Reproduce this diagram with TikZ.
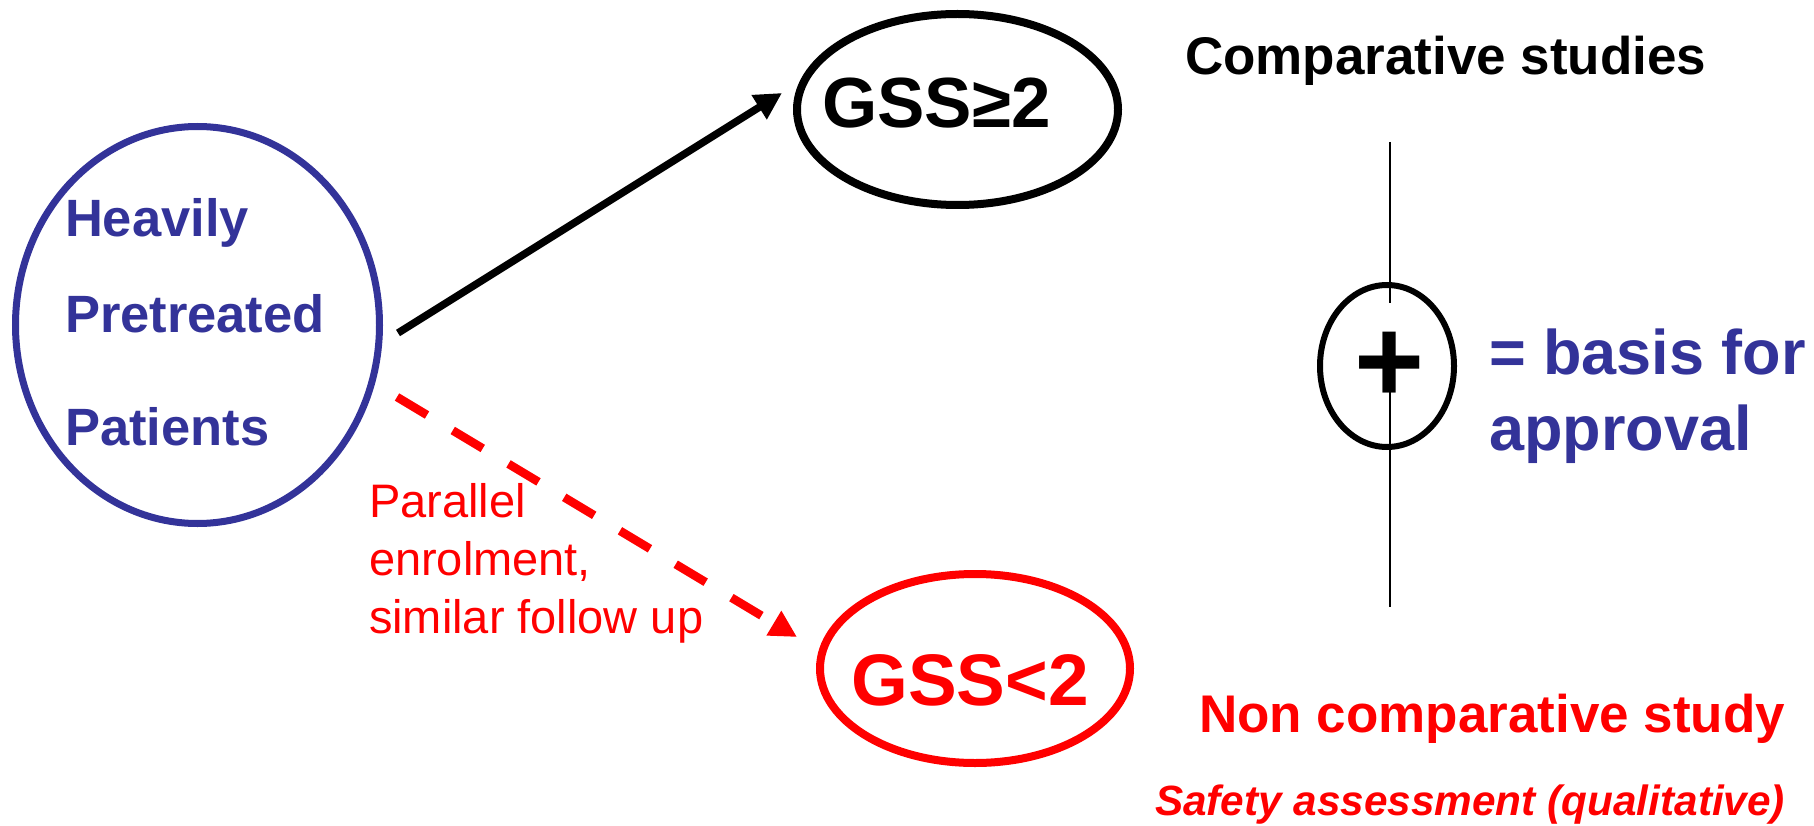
\documentclass[tikz,border=0pt]{standalone}
\usepackage{fontspec}
\setmainfont{Liberation Sans}
\usetikzlibrary{arrows.meta,shapes.geometric}
\definecolor{pptblue}{HTML}{333399}
\definecolor{pptred}{HTML}{FF0000}
\tikzset{
  oval/.style={ellipse, draw, inner sep=0pt, outer sep=0pt},
  lbl/.style={inner sep=0pt, outer sep=0pt},
  flow/.style={line width=7.5pt, -{Triangle[length=27pt,width=27pt]}},
}
\begin{document}
\begin{tikzpicture}[x=1pt,y=-1pt]
\useasboundingbox (0,0) rectangle (1814,826);
% left: patients
\node[oval, pptblue, line width=7pt, minimum width=364pt, minimum height=397pt] (patients) at (197.5,325) {};
\node[lbl, anchor=base west, align=left, text=pptblue, font=\bfseries\fontsize{52.5}{96}\selectfont] (ptext) at (65,445) {Heavily\\Pretreated\\[17pt]Patients};
% GSS >= 2
\node[oval, black, line width=8pt, minimum width=321pt, minimum height=191pt] (high) at (957.5,109.5) {};
\node[lbl, anchor=base, font=\bfseries\fontsize{71}{80}\selectfont] (hightext) at (936.5,128) {GSS≥2};
% GSS < 2
\node[oval, pptred, line width=8pt, minimum width=310pt, minimum height=189pt] (low) at (975,668.5) {};
\node[lbl, anchor=base, text=pptred, font=\bfseries\fontsize{73}{80}\selectfont] (lowtext) at (970,705) {GSS<2};
% arrows
\coordinate (hstart) at (398,333);
\coordinate (hend) at (782,93);
\draw[flow] (hstart) -- (hend);
\coordinate (lstart) at (397,397);
\coordinate (lend) at (797,637);
\draw[flow, pptred, line width=8.5pt, dash pattern=on 35pt off 30pt] (lstart) -- (lend);
\node[lbl, anchor=base west, align=left, text=pptred, font=\fontsize{47}{58}\selectfont] (enrol) at (369,633) {Parallel\\enrolment,\\similar follow up};
% right side
\node[lbl, anchor=base west, font=\bfseries\fontsize{53}{60}\selectfont] (comp) at (1185,75) {Comparative studies};
\coordinate (vtop) at (1390,142);
\coordinate (vbot) at (1390,607);
\draw[line width=2pt] (vtop) -- (vbot);
\node[oval, line width=6pt, minimum width=134pt, minimum height=162pt] (plusoval) at (1387,366) {};
\node[fill=white, inner sep=0pt, minimum width=20pt, minimum height=87pt] (plusmask) at (1390,346.5) {};
\node[lbl, font=\bfseries\fontsize{120}{120}\selectfont] (plus) at (1390,367) {+};
\node[lbl, anchor=base west, align=left, text=pptblue, font=\bfseries\fontsize{63}{76}\selectfont] (basis) at (1489,450) {= basis for\\approval};
\node[lbl, anchor=base west, text=pptred, font=\bfseries\fontsize{53}{60}\selectfont] (noncomp) at (1199,732) {Non comparative study};
\node[lbl, anchor=base west, text=pptred, font=\bfseries\itshape\fontsize{42.3}{50}\selectfont] (safety) at (1155,815) {Safety assessment (qualitative)};
\end{tikzpicture}
\end{document}
